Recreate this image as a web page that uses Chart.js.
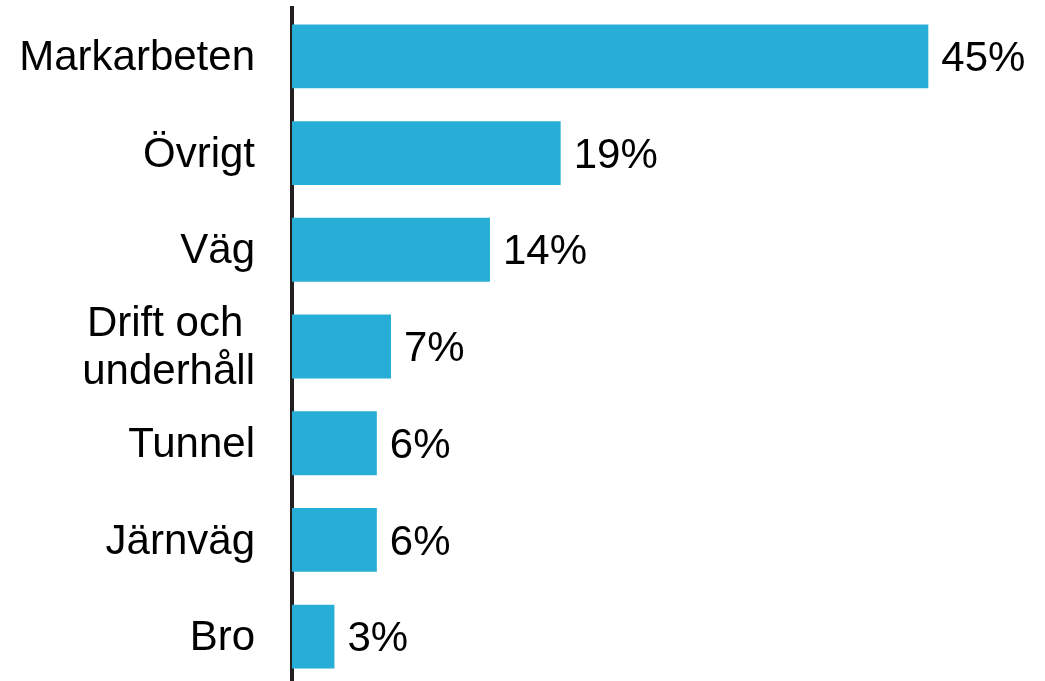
<!DOCTYPE html>
<html>
<head>
<meta charset="utf-8">
<script src="https://cdn.jsdelivr.net/npm/chart.js@4/dist/chart.umd.min.js"></script>
<style>
  html, body { margin: 0; padding: 0; background: #fff; overflow: hidden; }
</style>
</head>
<body>
<canvas id="barChart" width="1045" height="685"></canvas>
<script>
// Category labels (top to bottom) and their shares in percent
const categories = ['Markarbeten', 'Övrigt', 'Väg', ['Drift och ', 'underhåll'], 'Tunnel', 'Järnväg', 'Bro'];
const shares = [45, 19, 14, 7, 6, 6, 3];

Chart.defaults.font.family = "'Liberation Sans', Arial, sans-serif";
Chart.defaults.color = '#000';

// Draws "NN%" to the right of each bar
const valueLabels = {
  id: 'valueLabels',
  afterDatasetsDraw(chart) {
    const ctx = chart.ctx;
    const meta = chart.getDatasetMeta(0);
    ctx.save();
    ctx.font = "42px 'Liberation Sans', Arial, sans-serif";
    ctx.fillStyle = '#000';
    ctx.textAlign = 'left';
    ctx.textBaseline = 'middle';
    meta.data.forEach((bar, i) => {
      ctx.fillText(shares[i] + '%', bar.x + 13, bar.y + 3);
    });
    ctx.restore();
  }
};

new Chart(document.getElementById('barChart').getContext('2d'), {
  type: 'bar',
  data: {
    labels: categories,
    datasets: [{
      data: shares,
      backgroundColor: '#27aed6',
      borderWidth: 0,
      barPercentage: 0.66,
      categoryPercentage: 1
    }]
  },
  options: {
    indexAxis: 'y',
    responsive: false,
    animation: false,
    layout: {
      padding: { top: 8, right: 46, bottom: 0, left: 0 }
    },
    plugins: {
      legend: { display: false },
      tooltip: { enabled: false }
    },
    scales: {
      x: {
        display: false,
        min: 0,
        max: 50
      },
      y: {
        z: 1, // axis line on top of the bars
        afterFit(scale) {
          scale.width = 292;
          scale.paddingTop = 0;
          scale.paddingBottom = 0;
        },
        grid: { display: false, drawTicks: false },
        border: { display: true, color: '#231f20', width: 4 },
        ticks: {
          autoSkip: false,
          padding: 37,
          labelOffset: 2,
          font: { size: 42, lineHeight: 1.15 },
          color: '#000'
        }
      }
    }
  },
  plugins: [valueLabels]
});
</script>
</body>
</html>
